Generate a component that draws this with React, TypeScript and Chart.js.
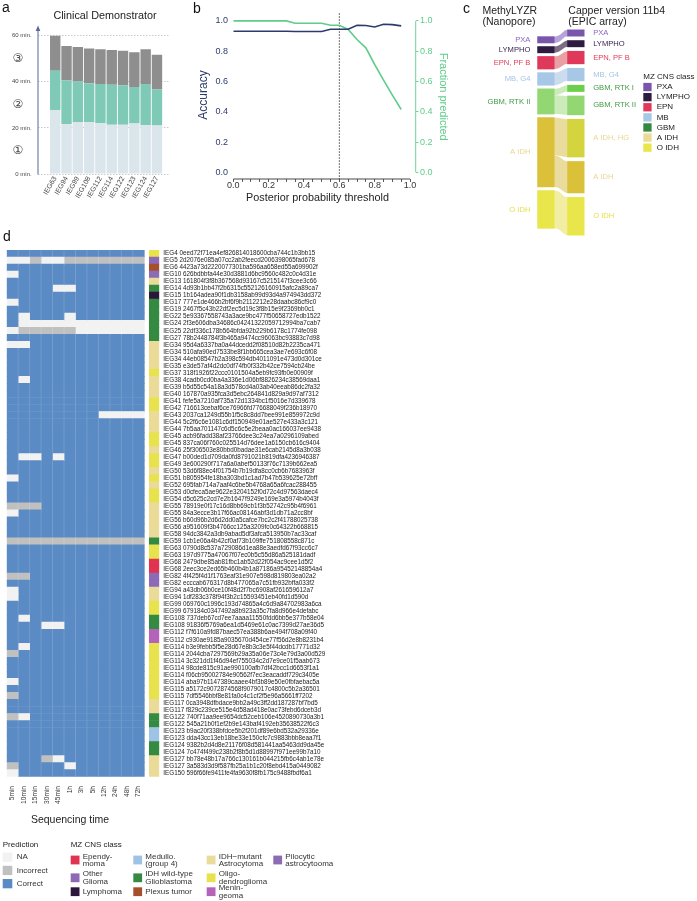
import React, { useEffect, useRef } from 'react';
import { Chart, registerables } from 'chart.js';

Chart.register(...registerables);

const FONT = '"Liberation Sans", Arial, Helvetica, sans-serif';
const MARK_FONT = '"DejaVu Sans", "Noto Sans CJK SC", sans-serif';
Chart.defaults.font.family = FONT;

/* ---------------- a: Clinical Demonstrator ---------------- */
const demoSamples = ['IEG63', 'IEG94', 'IEG99', 'IEG108', 'IEG112', 'IEG114', 'IEG122', 'IEG123', 'IEG124', 'IEG127'];
const stage1Minutes = [27.7, 21.6, 22.6, 22.5, 22.0, 21.4, 21.4, 21.9, 21.2, 21.0];
const stage2Minutes = [17.1, 19.0, 17.5, 16.9, 17.0, 17.3, 17.0, 15.8, 17.9, 15.7];
const stage3Minutes = [15.2, 14.9, 15.0, 15.1, 15.1, 15.1, 15.1, 15.1, 15.0, 15.0];
const minuteTicks = [0, 20, 40, 60];
const stageMarks = ['\u2460', '\u2461', '\u2462'];
const stageMarkMinutes = [10, 30, 50];

/* ---------------- b: threshold curves ---------------- */
const thresholds = [0, 0.05, 0.1, 0.15, 0.2, 0.25, 0.3, 0.35, 0.4, 0.45, 0.5, 0.55, 0.6, 0.65, 0.7, 0.75, 0.8, 0.85, 0.9, 0.95];
const accuracy = [0.931, 0.931, 0.931, 0.931, 0.931, 0.931, 0.931, 0.93, 0.93, 0.93, 0.93, 0.945, 0.945, 0.945, 0.971, 0.969, 0.96, 0.978, 0.975, 0.967];
const fractionPredicted = [1.0, 1.0, 1.0, 1.0, 1.0, 1.0, 1.0, 0.984, 0.984, 0.984, 0.984, 0.971, 0.971, 0.943, 0.877, 0.822, 0.712, 0.609, 0.51, 0.415];
const thresholdTicks = [0, 0.05, 0.1, 0.15, 0.2, 0.25, 0.3, 0.35, 0.4, 0.45, 0.5, 0.55, 0.6, 0.65, 0.7, 0.75, 0.8, 0.85, 0.9, 0.95, 1.0];
const probabilityTicks = [0, 0.2, 0.4, 0.6, 0.8, 1.0];
const cutoffThreshold = 0.6;

/* ---------------- c: MethyLYZR vs Capper ---------------- */
const methylyzrClasses = ['PXA', 'LYMPHO', 'EPN, PF B', 'MB, G4', 'GBM, RTK II', 'A IDH', 'O IDH'];
const methylyzrCounts = [1, 1, 2, 2, 4, 11, 6];
const capperClasses = ['PXA', 'LYMPHO', 'EPN, PF B', 'MB, G4', 'GBM, RTK I', 'GBM, RTK II', 'A IDH, HG', 'A IDH', 'O IDH'];
const capperCounts = [1, 1, 2, 2, 1, 3, 6, 5, 6];
const flowFrom = ['PXA', 'LYMPHO', 'EPN, PF B', 'MB, G4', 'GBM, RTK II', 'GBM, RTK II', 'A IDH', 'A IDH', 'O IDH'];
const flowTo = ['PXA', 'LYMPHO', 'EPN, PF B', 'MB, G4', 'GBM, RTK I', 'GBM, RTK II', 'A IDH, HG', 'A IDH', 'O IDH'];
const flowCount = [1, 1, 2, 2, 1, 3, 6, 5, 6];
const mzLegendClasses = ['PXA', 'LYMPHO', 'EPN', 'MB', 'GBM', 'A IDH', 'O IDH'];

/* ---------------- d: heatmap ---------------- */
const times = ['5min', '10min', '15min', '30min', '45min', '1h', '3h', '5h', '12h', '24h', '48h', '72h'];
const rowLabels = [
  'IEG4 0eed72f71ea4ef826814018600cba744c1b3bb15',
  'IEG5 2d2076e085a07cc2ab2feecd2006398065fad678',
  'IEG6 4423a73d2220077301ba596aa658ed55a699902f',
  'IEG10 626bdbbfa44e30d3881d6bc9560c482c0c4d31e',
  'IEG13 161804f3f8b367568d93167c5215147f3cee3c66',
  'IEG14 4d93b1bb47f2b6315c552126160915afc2a89ca7',
  'IEG15 1b164adea90f1db3158ab99d93d4a974943dd372',
  'IEG17 777e1de466b2bf6f9b2112212e28daabc86cf9c0',
  'IEG19 2467f5c43b22df2ec5d19c3f8b15e9f2369bb0c1',
  'IEG22 5e93367558743a3ace9bc477f50658727edb1522',
  'IEG24 2f3e606dba34686c04241322059712994ba7cab7',
  'IEG25 22df336c178b564bfda92b229b6178c1774fe098',
  'IEG27 78b2448784f3b465a9474cc96063bc93883c7d98',
  'IEG34 95d4a6337ba0a44dcedd2f08510d82b2235ca471',
  'IEG34 510afa90ed7533be8f1bb665cea3ae7e693c6f08',
  'IEG34 44eb08547b2a398c594db4011091e473d0d301ce',
  'IEG35 e3de57af4d2dc0df74fb0f332b42ce7594cb24be',
  'IEG37 318f1926f22ccc0101504a5eb9fc93fb0e00909f',
  'IEG38 4cadb0cd0ba4a336e1d06bf8826234c38569daa1',
  'IEG39 b5d55c54a18a3d578cd4a03ab40eeab86dc2fa32',
  'IEG40 167870a935fca3d5ebc264841d829a9d97af7312',
  'IEG41 fefe5a7210af735a72d1334bc1f5016e7d339678',
  'IEG42 716613cebaf6ce76966fd776688049f236b18970',
  'IEG43 2037ca1249d55b1f5c8c8dd7bee991e859972c9d',
  'IEG44 5c2f6c6e1081c6df150949e01ae527e433a3c121',
  'IEG44 7b5aa701147c6d5c6c5e2beaa0ac166037ee9438',
  'IEG45 acb96fadd38af23766dee3c24ea7a0296109abed',
  'IEG45 837ca06f760c025514d76dee1a6150cb616c9404',
  'IEG46 25f306503e80bbd0badae31e6cab2145d8a3b038',
  'IEG47 b00ded1d709da0fd8791021b819dfa4236946387',
  'IEG49 3e600290f717a6a0abef50133f76c7139b662ea5',
  'IEG50 53d6f88ec4f01754b7b19dfa8cc0cb6b7683963f',
  'IEG51 b805954fe18ba303bd1c1ad7b47b539625e72bff',
  'IEG52 695fab714a7aaf4c6be5b4768a65a6fcac288455',
  'IEG53 d0cfeca5ae9622e3204152f0d72c4d97563daec4',
  'IEG54 d5c625c2cd7e2b1647f9249e169e3a5974b4043f',
  'IEG55 78919e0f17c16d8bb69cb1f3b52742c95b4f6961',
  'IEG55 84a3ecce3b17f66ac08146abf3d1db71a2cc8bf',
  'IEG56 b60d96b2d6d2dd0a5cafce7bc2c2f41788025738',
  'IEG56 a951609f3b4766cc125a3209fc0c64322b668815',
  'IEG58 94dc3842a3db9abad5df3afca513950b7ac33caf',
  'IEG59 1cb1e06a4b42cf0af73b109ffe751808558c871c',
  'IEG63 0790d8c537a729086d1ea88e3aedfd67f93cc6c7',
  'IEG63 197d9775a47067f07ec0b5c55d86a525181dadf',
  'IEG68 2479dbe85ab81fbc1ab52d22f054ac9cee1d5f2',
  'IEG68 2eec3ce2ed65b460b4b1a87186a95452148854a4',
  'IEG82 4f425f4d1f1763eaf31e907e598d819803ea02a2',
  'IEG82 ecccab676317d8b477065a7c51fb932bffa033f2',
  'IEG94 a43db06b0ce10f48d2f7bc6908af261659612a7',
  'IEG94 1df283c378f94f3b2c15593451eb40fd1d590d',
  'IEG99 069760c1996c193d74865a4c6d9a84702983a6ca',
  'IEG99 679184c0347492a8b923a35c7fa8d966e4defabc',
  'IEG108 737deb67cd7ee7aaaa11550fdd6bb5e377b58e04',
  'IEG108 91836f5769a6ea1d5469e61c0ac7399d27ae36d5',
  'IEG112 f7f610a9fd87baec57ea388b6ae494f708a09f40',
  'IEG112 c930ae9185a9035670d454ce77f56d2e8b8231b4',
  'IEG114 b3e9febb5f5e28d67e8b3c3e5f44dcdb17771d32',
  'IEG114 2044cba7297569b29a35a06e73c4e79d3a00d529',
  'IEG114 3c321dd1f46d94ef755034c2d7e9ce01f5aab673',
  'IEG114 98cde815c91ae990100afb7df42bcc1d6653f1a1',
  'IEG114 f06cb95002784e90562f7ec3eacaddf729c3405e',
  'IEG114 aba97b1147389caaee4bf3b89e50e0fbfaebac5a',
  'IEG115 a5172c9072874568f9079017c4800c5b2a36501',
  'IEG115 7df5546bbf8e81fa0c4c1cf2f5e96a5661ff7202',
  'IEG117 0ca3948dfbdace9bb2a49c3ff2dd187287bf7bd5',
  'IEG117 f829c239ce515e4d58ad418e0ac73febd6dceb3d',
  'IEG122 740f71aa9ee9654dc52ceb106e4520890730a3b1',
  'IEG122 545a21b0f1ef2b9e143baf4192eb35638522f6c3',
  'IEG123 b9ac20f338bfdce5b2f201df89e6bd532a29336e',
  'IEG123 dda43cc13eb18be33e150cfc7c9883bbb8eaa7f1',
  'IEG124 9382b2d4d8e21176f08d581441aa5463dd9da45e',
  'IEG124 7c474f499c238b2f8b5d1d88997f971ee99b7a10',
  'IEG127 bb78e48b17a766c130161b044215fb6c4ab1e78e',
  'IEG127 3a583d3d9f587fb25a1b1c20f8ebd415a0449082',
  'IEG150 596f66fe9411fe4fa9630f8fb175c9488fbdf6a1',
];
// C = correct, I = incorrect, N = NA ; one character per sequencing time
const predictions = [
  'CCCCCCCCCCCC', 'NNINNIIIIIII', 'CCCCCCCCCCCC', 'NCCCCCCCCCCC', 'CCCCCCCCCCCC',
  'CCCCNNCCCCCC', 'CCCCCCCCCCCC', 'NCCCCCCCCCCC', 'CCCCCCCCCCCC', 'CNCCCNCCCCCC',
  'CNNNNNNNNNNN', 'NIIIIINNNNNN', 'CCCCCCCCCCCC', 'NNCCCCCCCCCC', 'CCCCCCCCCCCC',
  'CCCCCCCCCCCC', 'CCCCCCCCCCCC', 'CCCCCCCCCCCC', 'CNCCCCCCCCCC', 'CCCCCCCCCCCC',
  'CCCCCCCCCCCC', 'CCCCCCCCCCCC', 'CCCCCCCCCCCC', 'CCCCCCCCNNNN', 'CCCCCCCCCCCC',
  'CCCCCCCCCCCC', 'CCCCCCCCCCCC', 'CCCCCCCCCCCC', 'CCCCCCCCCCCC', 'CNNCNCCCCCCC',
  'CCCCCCCCCCCC', 'CCCCCCCCCCCC', 'NCCCCCCCCCCC', 'CCCCCCCCCCCC', 'CCCCCCCCCCCC',
  'CCCCCCCCCCCC', 'IIICCCCCCCCC', 'NCCCCCCCCCCC', 'CCCCCCCCCCCC', 'CCCCCCCCCCCC',
  'CCCCCCCCCCCC', 'IIIIIIIIIIII', 'CCCCCCCCCCCC', 'CCCCCCCCCCCC', 'CCCCCCCCCCCC',
  'CCCCCCCCCCCC', 'IICCCCCCCCCC', 'CCCCCCCCCCCC', 'NCCCCCCCCCCC', 'NCCCCCCCCCCC',
  'CCCCCCCCCCCC', 'CCCCCCCCCCCC', 'CNCCCCCCCCCC', 'CCCNNCCCCCCC', 'CCCCCCCCCCCC',
  'CCCCCCCCCCCC', 'CNCCCCCCCCCC', 'ICCCCCCCCCCC', 'CCCCCCCCCCCC', 'CCCCCCCCCCCC',
  'CCCCCCCCCCCC', 'NCCCCCCCCCCC', 'CCCCCCCCCCCC', 'ICCCCCCCCCCC', 'CCCCCCCCCCCC',
  'CCCCCCCCCCCC', 'INCCCCCCCCCC', 'CCCCCCCCCCCC', 'CCCCCCCCCCCC', 'CCCCCCCCCCCC',
  'CCCCCCCCCCCC', 'CCCCCCCCCCCC', 'CCCINCCCCCCC', 'ICCCCNCCCCCC', 'NCCCCCCCCCCC',
];
const rowClass = [
  'O', 'OG', 'PL', 'PA', 'A', 'G', 'L', 'G', 'G', 'G', 'G', 'G', 'G',
  'A', 'A', 'A', 'A', 'O', 'A', 'A', 'A', 'O', 'O', 'A', 'A', 'A',
  'O', 'O', 'A', 'O', 'O', 'A', 'O', 'A', 'O', 'O', 'A', 'A', 'A', 'A', 'A',
  'G', 'O', 'O', 'E', 'E', 'OG', 'OG', 'A', 'A', 'O', 'O', 'G', 'G', 'M', 'M',
  'O', 'O', 'O', 'O', 'O', 'O', 'O', 'O', 'A', 'A', 'G', 'G', 'MB', 'MB', 'G', 'G',
  'A', 'A', 'A',
];
const predictionLegendKeys = ['N', 'I', 'C'];
const predictionLegendLabels = ['NA', 'Incorrect', 'Correct'];
const classLegendKeys = ['E', 'OG', 'L', 'MB', 'G', 'PL', 'A', 'O', 'M', 'PA'];
const classLegendLabels = [
  'Ependy-\nmoma', 'Other\nGlioma', 'Lymphoma',
  'Medullo.\n(group 4)', 'IDH wild-type\nGlioblastoma', 'Plexus tumor',
  'IDH\u2212mutant\nAstrocytoma', 'Oligo-\ndendroglioma', 'Menin-\ngeoma',
  'Pilocytic\nastrocytooma',
];

/* ---------------- styles ---------------- */
const NAVY = '#2d3b6c';
const GREEN = '#5fcd8b';
const predictionColor: Record<string, string> = { C: '#5b8bc4', I: '#c0c0c0', N: '#f2f2f2' };
const classColor: Record<string, string> = {
  E: '#e0334f', OG: '#8c6ab6', L: '#2d163c', MB: '#9ec3e5', G: '#358a41',
  PL: '#a5502d', A: '#eadb98', O: '#e8e24c', M: '#b463b8', PA: '#8b6bb3',
};
const nodeColorLeft: Record<string, string> = {
  'PXA': '#7a55ac', 'LYMPHO': '#2f1a40', 'EPN, PF B': '#e0385a', 'MB, G4': '#a7c7e6',
  'GBM, RTK II': '#93d772', 'A IDH': '#dbc139', 'O IDH': '#e9e64b',
};
const nodeColorRight: Record<string, string> = {
  'PXA': '#7a55ac', 'LYMPHO': '#2f1a40', 'EPN, PF B': '#e0385a', 'MB, G4': '#a7c7e6',
  'GBM, RTK I': '#6ccf4c', 'GBM, RTK II': '#93d772', 'A IDH, HG': '#d4d43f', 'A IDH': '#dbc139', 'O IDH': '#e9e64b',
};
const ribbonColor: Record<string, string> = {
  'PXA': '#b6a3d9', 'LYMPHO': '#7d6d83', 'EPN, PF B': '#e9a0a4', 'MB, G4': '#cbdcef',
  'GBM, RTK II': '#cbebbb', 'A IDH': '#e9dc9d', 'O IDH': '#f1eda3',
};
const sankeyLabelColor: Record<string, string> = {
  'PXA': '#8a66c2', 'LYMPHO': '#3b2350', 'EPN, PF B': '#e0405c', 'MB, G4': '#a4c4e6',
  'GBM, RTK I': '#3f9a45', 'GBM, RTK II': '#3f9a45', 'A IDH, HG': '#e8d690', 'A IDH': '#e8d690', 'O IDH': '#e6e04c',
};
const mzLegendColor: Record<string, string> = {
  'PXA': '#7a55ac', 'LYMPHO': '#2f1a40', 'EPN': '#e0385a', 'MB': '#a7c7e6',
  'GBM': '#348840', 'A IDH': '#eadb98', 'O IDH': '#e9e64b',
};

/* ---------------- helpers ---------------- */
type TextOpts = { size: number; color?: string; align?: CanvasTextAlign; baseline?: CanvasTextBaseline; rotate?: number; family?: string };
function drawText(ctx: CanvasRenderingContext2D, str: string, x: number, y: number, o: TextOpts) {
  ctx.save();
  ctx.font = `${o.size}px ${o.family || FONT}`;
  ctx.fillStyle = o.color || '#222';
  ctx.textAlign = o.align || 'left';
  ctx.textBaseline = o.baseline || 'middle';
  ctx.translate(x, y);
  if (o.rotate) ctx.rotate(o.rotate);
  ctx.fillText(str, 0, 0);
  ctx.restore();
}

function useChart(build: (c: HTMLCanvasElement) => Chart) {
  const ref = useRef<HTMLCanvasElement>(null);
  useEffect(() => {
    const chart = build(ref.current as HTMLCanvasElement);
    return () => chart.destroy();
  }, []);
  return ref;
}

const baseOptions = {
  responsive: false,
  animation: false as const,
  devicePixelRatio: 1,
  events: [] as any[],
};

/* ---------------- panel a ---------------- */
function buildPanelA(canvas: HTMLCanvasElement) {
  const ds = (values: number[], color: string) => ({
    data: values.map((v, i) => ({ x: i, y: v })),
    backgroundColor: color,
    borderWidth: 0,
    barPercentage: 0.92,
    categoryPercentage: 1,
  });
  const overlay = {
    id: 'panelA-overlay',
    afterDraw(chart: any) {
      const { ctx, chartArea, scales } = chart;
      const ys = scales.y;
      const ax = chartArea.left;
      ctx.save();
      ctx.strokeStyle = '#5b6794';
      ctx.fillStyle = '#5b6794';
      ctx.lineWidth = 1;
      ctx.beginPath();
      ctx.moveTo(ax, ys.getPixelForValue(0) + 0.5);
      ctx.lineTo(ax, chartArea.top + 3);
      ctx.stroke();
      ctx.beginPath();
      ctx.moveTo(ax, chartArea.top - 1);
      ctx.lineTo(ax - 2.3, chartArea.top + 4.5);
      ctx.lineTo(ax + 2.3, chartArea.top + 4.5);
      ctx.closePath();
      ctx.fill();
      ctx.restore();
      stageMarks.forEach((m, i) =>
        drawText(ctx, m, 18, ys.getPixelForValue(stageMarkMinutes[i]), { size: 12, color: '#444', align: 'center', family: MARK_FONT }));
      drawText(ctx, 'a', 2, 11.7, { size: 14, baseline: 'alphabetic', color: '#111' });
      drawText(ctx, 'Clinical Demonstrator', 105, 18.5, { size: 10.8, align: 'center', baseline: 'alphabetic', color: '#222' });
    },
  };
  return new Chart(canvas, {
    type: 'bar',
    data: { datasets: [ds(stage1Minutes, '#dbe5ec'), ds(stage2Minutes, '#7fc9b7'), ds(stage3Minutes, '#8e8e8e')] as any },
    options: {
      ...baseOptions,
      layout: { padding: { left: 0, right: 10, top: 26.5, bottom: 0 } },
      plugins: { legend: { display: false }, tooltip: { enabled: false } },
      scales: {
        x: {
          type: 'linear', stacked: true, min: -0.94, max: 9.57,
          afterBuildTicks: (s: any) => { s.ticks = demoSamples.map((_, i) => ({ value: i })); },
          ticks: { autoSkip: false, minRotation: 60, maxRotation: 60, callback: (_v: any, i: number) => demoSamples[i], font: { size: 7 }, color: '#444', padding: 1 },
          grid: { display: false, drawTicks: false },
          border: { display: false },
          afterFit: (s: any) => { s.height = 41; },
        },
        y: {
          stacked: true, min: 0, max: 64,
          afterBuildTicks: (s: any) => { s.ticks = minuteTicks.map((v) => ({ value: v })); },
          ticks: { callback: (v: any) => `${v} min.`, font: { size: 6 }, color: '#444', padding: 6.3 },
          grid: { color: '#bdbdbd', lineWidth: 0.8, drawTicks: false },
          border: { display: false, dash: [1.5, 1.5] },
          afterFit: (s: any) => { s.width = 38; },
        },
      },
    } as any,
    plugins: [overlay],
  });
}

/* ---------------- panel b ---------------- */
function buildPanelB(canvas: HTMLCanvasElement) {
  const overlay = {
    id: 'panelB-overlay',
    beforeDatasetsDraw(chart: any) {
      const { ctx, chartArea, scales } = chart;
      const x = scales.x.getPixelForValue(cutoffThreshold);
      ctx.save();
      ctx.strokeStyle = '#333';
      ctx.lineWidth = 0.9;
      ctx.setLineDash([1.5, 1.5]);
      ctx.beginPath();
      ctx.moveTo(x, chartArea.top);
      ctx.lineTo(x, chartArea.bottom);
      ctx.stroke();
      ctx.restore();
    },
    afterDraw(chart: any) {
      const { ctx, chartArea, scales } = chart;
      const xs = scales.x;
      const y2 = scales.y2;
      ctx.save();
      ctx.lineWidth = 0.9;
      ctx.strokeStyle = '#333';
      ctx.beginPath();
      ctx.moveTo(xs.getPixelForValue(0), chartArea.bottom);
      ctx.lineTo(xs.getPixelForValue(1), chartArea.bottom);
      ctx.stroke();
      ctx.strokeStyle = GREEN;
      ctx.beginPath();
      ctx.moveTo(chartArea.right, y2.getPixelForValue(0));
      ctx.lineTo(chartArea.right, y2.getPixelForValue(1));
      ctx.stroke();
      ctx.restore();
      drawText(ctx, 'b', 13, 13.3, { size: 14, baseline: 'alphabetic', color: '#111' });
      drawText(ctx, 'Accuracy', 23.3, 95, { size: 12, align: 'center', color: NAVY, rotate: -Math.PI / 2 });
      drawText(ctx, 'Fraction predicted', 263.3, 96.7, { size: 11, align: 'center', color: GREEN, rotate: Math.PI / 2 });
      drawText(ctx, 'Posterior probability threshold', 137.5, 198, { size: 10.8, align: 'center', color: '#222' });
    },
  };
  return new Chart(canvas, {
    type: 'line',
    data: {
      datasets: [
        { data: thresholds.map((t, i) => ({ x: t, y: accuracy[i] })), yAxisID: 'y', borderColor: NAVY, borderWidth: 1.6, pointRadius: 0, tension: 0 },
        { data: thresholds.map((t, i) => ({ x: t, y: fractionPredicted[i] })), yAxisID: 'y2', borderColor: GREEN, borderWidth: 1.6, pointRadius: 0, tension: 0 },
      ] as any,
    },
    options: {
      ...baseOptions,
      layout: { padding: { left: 0, right: 0, top: 13.3, bottom: 0 } },
      plugins: { legend: { display: false }, tooltip: { enabled: false } },
      scales: {
        x: {
          type: 'linear', min: 0, max: 1.032,
          afterBuildTicks: (s: any) => { s.ticks = thresholdTicks.map((v) => ({ value: v })); },
          ticks: { autoSkip: false, maxRotation: 0, callback: (v: any, i: number) => (i % 4 === 0 ? Number(v).toFixed(1) : ''), font: { size: 9, lineHeight: 1 }, color: '#333', padding: -1 },
          grid: { drawOnChartArea: false, drawTicks: true, tickLength: 3, color: '#333', lineWidth: 0.8 },
          border: { display: false },
          afterFit: (s: any) => { s.height = 31; },
        },
        y: {
          type: 'linear', position: 'left', min: -0.044, max: 1.05,
          afterBuildTicks: (s: any) => { s.ticks = probabilityTicks.map((v) => ({ value: v })); },
          ticks: { callback: (v: any) => Number(v).toFixed(1), font: { size: 9 }, color: NAVY, padding: 5.3 },
          grid: { display: false, drawTicks: false },
          border: { display: false },
          afterFit: (s: any) => { s.width = 53.3; },
        },
        y2: {
          type: 'linear', position: 'right', min: -0.044, max: 1.05,
          afterBuildTicks: (s: any) => { s.ticks = probabilityTicks.map((v) => ({ value: v })); },
          ticks: { callback: (v: any) => Number(v).toFixed(1), font: { size: 9 }, color: GREEN, padding: 1.6 },
          grid: { drawOnChartArea: false, drawTicks: true, tickLength: 2.7, color: GREEN, lineWidth: 0.9 },
          border: { display: false },
          afterFit: (s: any) => { s.width = 44.3; },
        },
      },
    } as any,
    plugins: [overlay],
  });
}

/* ---------------- panel c ---------------- */
const SANKEY = { center: 21.03, gapLeft: 0.571, gapRight: 0.698, yMax: 39.68, nodeWidth: 16.6, xMin: -1.875, xMax: 4.05 };
function stackNodes(counts: number[], gap: number, center: number) {
  const total = counts.reduce((a, b) => a + b, 0) + gap * (counts.length - 1);
  let y = center - total / 2;
  return counts.map((c) => {
    const r = [y, y + c];
    y += c + gap;
    return r;
  });
}

function buildPanelC(canvas: HTMLCanvasElement) {
  const leftRanges = stackNodes(methylyzrCounts, SANKEY.gapLeft, SANKEY.center);
  const rightRanges = stackNodes(capperCounts, SANKEY.gapRight, SANKEY.center);
  const ribbons = {
    id: 'panelC-ribbons',
    beforeDatasetsDraw(chart: any) {
      const { ctx, scales } = chart;
      const xs = scales.x;
      const ys = scales.y;
      const half = SANKEY.nodeWidth / 2;
      const x0 = xs.getPixelForValue(0) + half - 0.5;
      const x1 = xs.getPixelForValue(1) - half + 0.5;
      const cx = x0 + (x1 - x0) * 0.58;
      const leftFill = methylyzrCounts.map(() => 0);
      const rightFill = capperCounts.map(() => 0);
      ctx.save();
      flowFrom.forEach((from, k) => {
        const li = methylyzrClasses.indexOf(from);
        const ri = capperClasses.indexOf(flowTo[k]);
        const v = flowCount[k];
        const sT = ys.getPixelForValue(leftRanges[li][0] + leftFill[li]);
        const sB = ys.getPixelForValue(leftRanges[li][0] + leftFill[li] + v);
        const tT = ys.getPixelForValue(rightRanges[ri][0] + rightFill[ri]);
        const tB = ys.getPixelForValue(rightRanges[ri][0] + rightFill[ri] + v);
        leftFill[li] += v;
        rightFill[ri] += v;
        ctx.beginPath();
        ctx.moveTo(x0, sT);
        ctx.bezierCurveTo(cx, sT, cx, tT, x1, tT);
        ctx.lineTo(x1, tB);
        ctx.bezierCurveTo(cx, tB, cx, sB, x0, sB);
        ctx.closePath();
        ctx.fillStyle = ribbonColor[from];
        ctx.fill();
      });
      ctx.restore();
    },
    afterDraw(chart: any) {
      const { ctx, scales } = chart;
      const ys = scales.y;
      const xs = scales.x;
      const half = SANKEY.nodeWidth / 2;
      const lx = xs.getPixelForValue(0) - half - 7.2;
      const rx = xs.getPixelForValue(1) + half + 9;
      methylyzrClasses.forEach((c, i) => {
        const mid = ys.getPixelForValue((leftRanges[i][0] + leftRanges[i][1]) / 2);
        drawText(ctx, c, lx, mid, { size: 7.6, align: 'right', color: sankeyLabelColor[c] });
      });
      capperClasses.forEach((c, i) => {
        const mid = ys.getPixelForValue((rightRanges[i][0] + rightRanges[i][1]) / 2);
        drawText(ctx, c, rx, mid, { size: 7.6, align: 'left', color: sankeyLabelColor[c] });
      });
      drawText(ctx, 'c', 3, 12.7, { size: 14, baseline: 'alphabetic', color: '#111' });
      drawText(ctx, 'MethyLYZR', 22.5, 14, { size: 10.5, baseline: 'alphabetic', color: '#222' });
      drawText(ctx, '(Nanopore)', 22.5, 24.5, { size: 10.5, baseline: 'alphabetic', color: '#222' });
      drawText(ctx, 'Capper version 11b4', 108.3, 14, { size: 10.5, baseline: 'alphabetic', color: '#222' });
      drawText(ctx, '(EPIC array)', 108.3, 24.5, { size: 10.5, baseline: 'alphabetic', color: '#222' });
      drawText(ctx, 'MZ CNS class', 183.3, 77, { size: 8, color: '#222' });
      mzLegendClasses.forEach((c, i) => {
        const cy = 87 + i * 10.1;
        ctx.fillStyle = mzLegendColor[c];
        ctx.fillRect(183.3, cy - 4.1, 8.3, 8.3);
        drawText(ctx, c, 196.7, cy, { size: 8, color: '#222' });
      });
    },
  };
  const nodes = [
    ...leftRanges.map((r) => ({ x: 0, y: r })),
    ...rightRanges.map((r) => ({ x: 1, y: r })),
  ];
  const colors = [
    ...methylyzrClasses.map((c) => nodeColorLeft[c]),
    ...capperClasses.map((c) => nodeColorRight[c]),
  ];
  return new Chart(canvas, {
    type: 'bar',
    data: { datasets: [{ data: nodes, backgroundColor: colors, borderWidth: 0, barThickness: SANKEY.nodeWidth }] as any },
    options: {
      ...baseOptions,
      layout: { padding: 0 },
      plugins: { legend: { display: false }, tooltip: { enabled: false } },
      scales: {
        x: { type: 'linear', display: false, min: SANKEY.xMin, max: SANKEY.xMax },
        y: { type: 'linear', display: false, min: 0, max: SANKEY.yMax, reverse: true },
      },
    } as any,
    plugins: [ribbons],
  });
}

/* ---------------- panel d ---------------- */
const HEAT = { colorBarStart: 12.436, colorBarEnd: 13.308, top: 20, left: 6.7, xAxisHeight: 124.3, labelAxisWidth: 537.7 };
function buildPanelD(canvas: HTMLCanvasElement) {
  const timeSets = times.map((t, ci) => ({
    label: t,
    data: rowLabels.map(() => [ci, ci + 1]),
    backgroundColor: predictions.map((p) => predictionColor[p[ci]]),
    borderWidth: 0,
    grouped: false,
    categoryPercentage: 1,
    barPercentage: 1,
  }));
  const classSet = {
    label: 'class',
    data: rowLabels.map(() => [HEAT.colorBarStart, HEAT.colorBarEnd]),
    backgroundColor: rowClass.map((c) => classColor[c]),
    borderWidth: 0,
    grouped: false,
    categoryPercentage: 1,
    barPercentage: 1,
  };
  const overlay = {
    id: 'panelD-overlay',
    afterDatasetsDraw(chart: any) {
      const { ctx, chartArea, scales } = chart;
      const xs = scales.x;
      ctx.save();
      ctx.strokeStyle = 'rgba(255,255,255,0.14)';
      ctx.lineWidth = 1;
      for (let i = 1; i < times.length; i++) {
        const x = xs.getPixelForValue(i);
        ctx.beginPath();
        ctx.moveTo(x, chartArea.top);
        ctx.lineTo(x, chartArea.bottom);
        ctx.stroke();
      }
      ctx.restore();
    },
    afterDraw(chart: any) {
      const { ctx } = chart;
      drawText(ctx, 'd', 3, 11, { size: 14, baseline: 'alphabetic', color: '#111' });
      drawText(ctx, 'Sequencing time', 70, 590, { size: 10.5, align: 'center', color: '#222' });
      // prediction legend
      drawText(ctx, 'Prediction', 2.7, 615, { size: 8, color: '#222' });
      predictionLegendKeys.forEach((k, i) => {
        const cy = 627.2 + i * 13.2;
        ctx.fillStyle = predictionColor[k];
        ctx.fillRect(2.7, cy - 4.6, 9.6, 9.3);
        drawText(ctx, predictionLegendLabels[i], 16.7, cy, { size: 8, color: '#333' });
      });
      // class legend
      drawText(ctx, 'MZ CNS class', 70.7, 615, { size: 8, color: '#222' });
      const colX = [70.7, 133.3, 206.7, 273.3];
      const rowY = [630, 647.8, 661.7];
      classLegendKeys.forEach((k, i) => {
        const cx = colX[Math.floor(i / 3)];
        const cy = rowY[i % 3];
        ctx.fillStyle = classColor[k];
        ctx.fillRect(cx, cy - 4.4, 8.8, 8.8);
        const lines = classLegendLabels[i].split('\n');
        lines.forEach((ln, j) => {
          const off = (j - (lines.length - 1) / 2) * 7.3;
          drawText(ctx, ln, cx + 12, cy + off, { size: 8, color: '#333' });
        });
      });
    },
  };
  return new Chart(canvas, {
    type: 'bar',
    data: { labels: rowLabels, datasets: [...timeSets, classSet] as any },
    options: {
      ...baseOptions,
      indexAxis: 'y',
      layout: { padding: { left: HEAT.left, top: HEAT.top, right: 0, bottom: 0 } },
      plugins: { legend: { display: false }, tooltip: { enabled: false } },
      scales: {
        x: {
          type: 'linear', min: 0, max: HEAT.colorBarEnd,
          afterBuildTicks: (s: any) => { s.ticks = times.map((_, i) => ({ value: i + 0.5 })); },
          ticks: { autoSkip: false, minRotation: 90, maxRotation: 90, callback: (_v: any, i: number) => times[i], font: { size: 6.6 }, color: '#333', padding: 9.3 },
          grid: { display: false, drawTicks: false },
          border: { display: false },
          afterFit: (s: any) => { s.height = HEAT.xAxisHeight; },
        },
        y: {
          type: 'category', position: 'right', offset: true,
          ticks: { autoSkip: false, font: { size: 6.3 }, color: '#222', padding: 4 },
          grid: { display: false, drawTicks: false },
          border: { display: false },
          afterFit: (s: any) => { s.width = HEAT.labelAxisWidth; },
        },
      },
    } as any,
    plugins: [overlay],
  });
}

function Panel({ build, left, top, width, height }: { build: (c: HTMLCanvasElement) => Chart; left: number; top: number; width: number; height: number }) {
  const ref = useChart(build);
  return <canvas ref={ref} width={width} height={height} style={{ position: 'absolute', left, top, width, height, display: 'block' }} />;
}

export default function App() {
  return (
    <div style={{ position: 'absolute', left: 0, top: 0, width: 697, height: 901, background: '#ffffff', overflow: 'hidden' }}>
      <Panel build={buildPanelA} left={0} top={0} width={180} height={215} />
      <Panel build={buildPanelB} left={180} top={0} width={280} height={210} />
      <Panel build={buildPanelC} left={460} top={0} width={237} height={250} />
      <Panel build={buildPanelD} left={0} top={230} width={697} height={671} />
    </div>
  );
}
